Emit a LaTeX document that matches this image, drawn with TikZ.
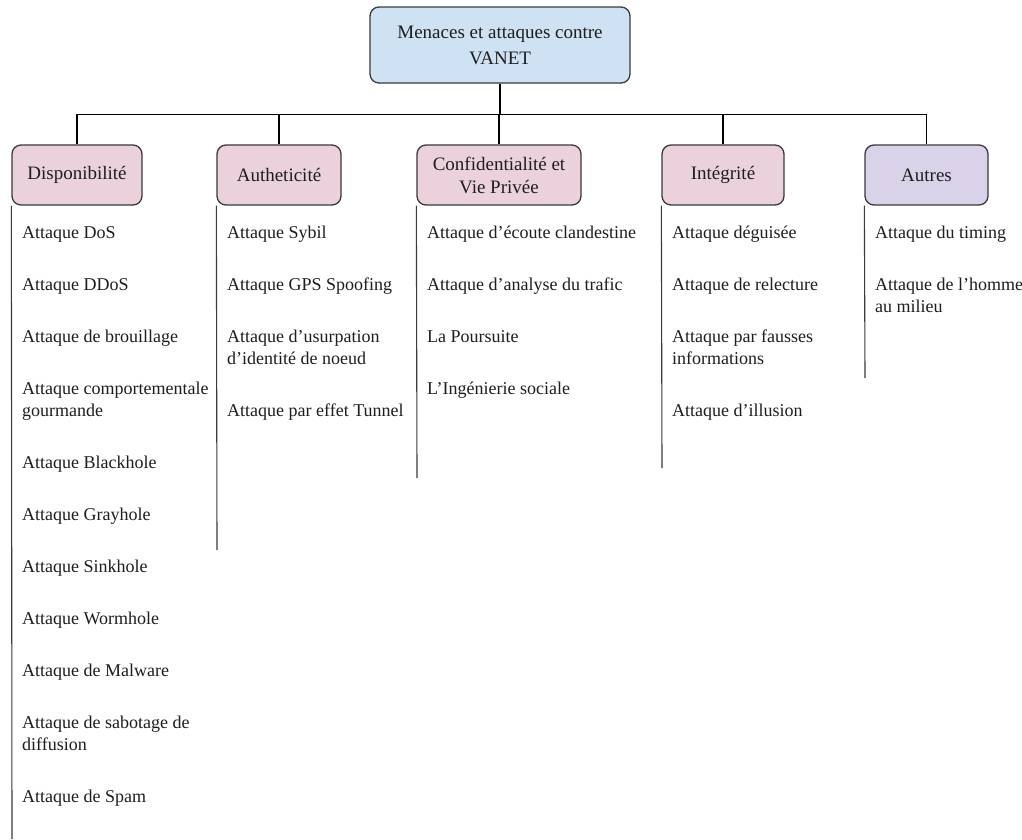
\documentclass[tikz,border=0pt]{standalone}
\usepackage{fontspec}
\setmainfont{Liberation Serif}
\definecolor{edgegray}{HTML}{3A3A3A}
\definecolor{textgray}{HTML}{1E1E1E}
\definecolor{rootblue}{HTML}{CFE2F3}
\definecolor{catpink}{HTML}{EAD1DC}
\definecolor{catlilac}{HTML}{D9D2E9}
% two-line entry whose baseline is that of its first line
\newcommand{\twolines}[2]{\begin{tabular}[t]{@{}l@{}}#1\\#2\end{tabular}}
\begin{document}
\begin{tikzpicture}[x=1pt,y=-1pt,
  every node/.style={text=textgray},
  box/.style={draw=edgegray, line width=1.3pt, rounded corners=9pt,
    inner sep=0pt, align=center, minimum height=60pt,
    font=\fontsize{19}{23}\selectfont},
  rootbox/.style={box, fill=rootblue, minimum width=260pt,
    minimum height=76pt, font=\fontsize{19}{26}\selectfont},
  catbox/.style={box, fill=catpink},
  otherbox/.style={box, fill=catlilac},
  link/.style={draw=black, line width=1.1pt},
  rail/.style={draw=edgegray, line width=1.1pt},
  item/.style={anchor=base west, inner sep=0pt,
    font=\fontsize{18}{22}\selectfont}
]
\useasboundingbox[fill=white] (0,0) rectangle (1022,839);

% root and category boxes
\node[rootbox] (root) at (500,45) {Menaces et attaques contre\\VANET};
\node[catbox, minimum width=130pt] (dispo) at (77,175) {Disponibilité};
\node[catbox, minimum width=124pt] (authe) at (279,175) {Autheticité};
\node[catbox, minimum width=164pt] (confi) at (499,175) {Confidentialité et\\Vie Privée};
\node[catbox, minimum width=122pt] (integ) at (723,175) {Intégrité};
\node[otherbox, minimum width=123pt] (autre) at (926.5,175) {Autres};

% tree connectors
\foreach \c in {dispo,authe,confi,integ,autre}
  \draw[link] (root.south) -- ++(0,31) -| (\c.north);

% list rails under each category
\coordinate (dispoEnd) at (12,839);
\coordinate (autheEnd) at (217,550);
\coordinate (confiEnd) at (417,478);
\coordinate (integEnd) at (662,468);
\coordinate (autreEnd) at (865,378);
\foreach \c in {dispo,authe,confi,integ,autre}
  \draw[rail] (\c.south west) -- (\c End);

% Disponibilite
\node[item] (d1) at (22,238) {Attaque DoS};
\node[item] (d2) at (22,290) {Attaque DDoS};
\node[item] (d3) at (22,342) {Attaque de brouillage};
\node[item] (d4) at (22,394) {\twolines{Attaque comportementale}{gourmande}};
\node[item] (d5) at (22,468) {Attaque Blackhole};
\node[item] (d6) at (22,520) {Attaque Grayhole};
\node[item] (d7) at (22,572) {Attaque Sinkhole};
\node[item] (d8) at (22,624) {Attaque Wormhole};
\node[item] (d9) at (22,676) {Attaque de Malware};
\node[item] (d10) at (22,728) {\twolines{Attaque de sabotage de}{diffusion}};
\node[item] (d11) at (22,802) {Attaque de Spam};

% Authenticite
\node[item] (a1) at (227,238) {Attaque Sybil};
\node[item] (a2) at (227,290) {Attaque GPS Spoofing};
\node[item] (a3) at (227,342) {\twolines{Attaque d’usurpation}{d’identité de noeud}};
\node[item] (a4) at (227,416) {Attaque par effet Tunnel};

% Confidentialite
\node[item] (c1) at (427,238) {Attaque d’écoute clandestine};
\node[item] (c2) at (427,290) {Attaque d’analyse du trafic};
\node[item] (c3) at (427,342) {La Poursuite};
\node[item] (c4) at (427,394) {L’Ingénierie sociale};

% Integrite
\node[item] (i1) at (672,238) {Attaque déguisée};
\node[item] (i2) at (672,290) {Attaque de relecture};
\node[item] (i3) at (672,342) {\twolines{Attaque par fausses}{informations}};
\node[item] (i4) at (672,416) {Attaque d’illusion};

% Autres
\node[item] (o1) at (875,238) {Attaque du timing};
\node[item] (o2) at (875,290) {\twolines{Attaque de l’homme}{au milieu}};
\end{tikzpicture}
\end{document}
